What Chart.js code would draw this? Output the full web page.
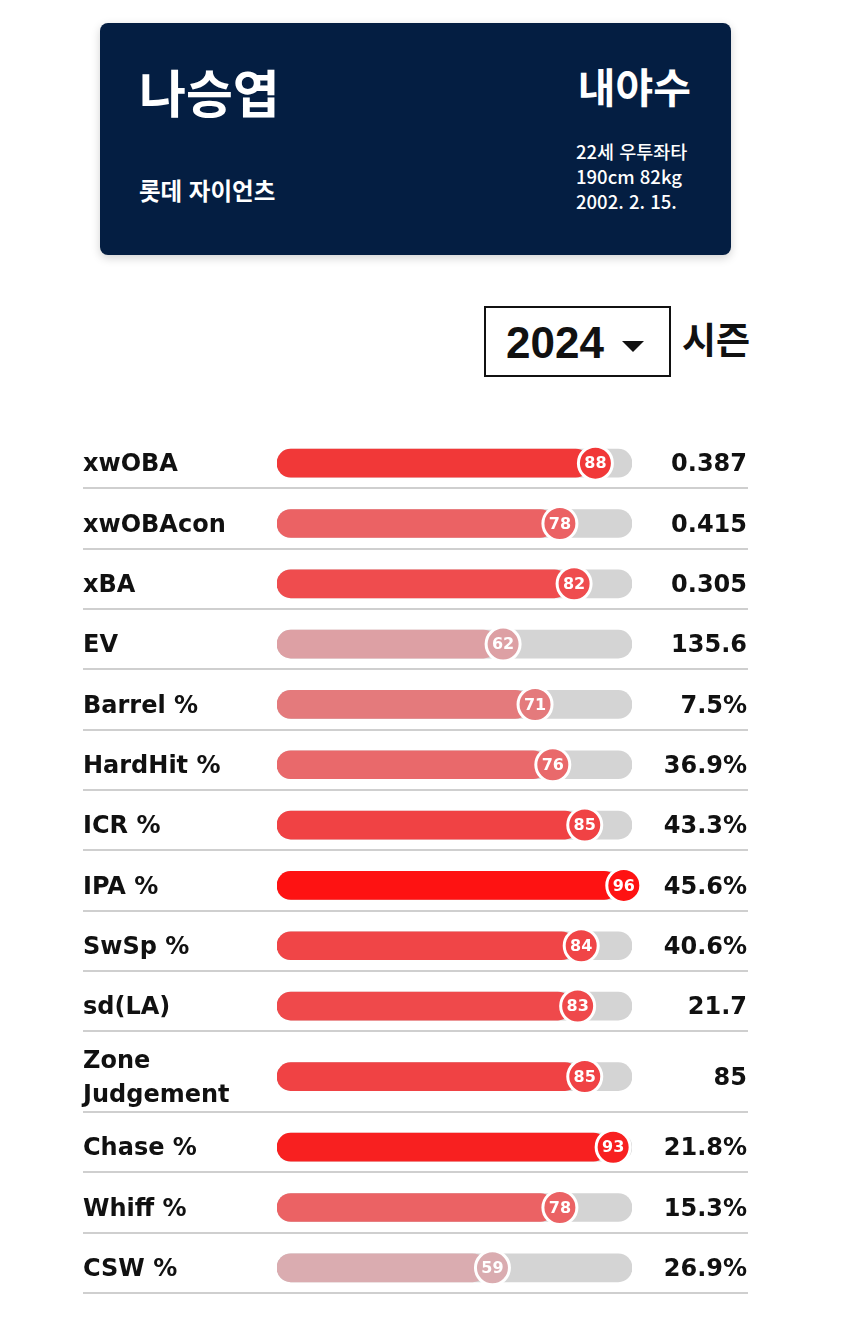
<!DOCTYPE html>
<html lang="ko">
<head>
<meta charset="utf-8">
<script src="https://cdn.jsdelivr.net/npm/chart.js@4.4.1/dist/chart.umd.min.js"></script>
<style>
  html, body { margin: 0; padding: 0; background: #fff; }
  body { width: 850px; height: 1319px; position: relative; overflow: hidden;
         font-family: "Noto Sans CJK KR", "Noto Sans", sans-serif; }
  .card { position: absolute; left: 100px; top: 23px; width: 631px; height: 232px;
          background: #041e42; border-radius: 8px; color: #fff;
          box-shadow: 0 3px 10px rgba(0,0,0,0.18); }
  .card div { position: absolute; white-space: nowrap; }
  .name { left: 39px; top: 38px; font-size: 51px; line-height: 60px; font-weight: 700; }
  .team { left: 39px; top: 152px; font-size: 23.5px; line-height: 30px; font-weight: 700; }
  .pos { right: 40px; top: 37px; font-size: 41px; line-height: 50px; font-weight: 700; }
  .info { left: 476px; top: 116px; font-size: 18.5px; font-weight: 500; line-height: 25px; }
  .season { position: absolute; left: 484px; top: 306px; width: 183px; height: 67px;
            border: 2px solid #111; }
  .season .yr { position: absolute; left: 20px; top: 13px; font-family: "Liberation Sans", Arial, sans-serif;
                font-size: 44px; line-height: 44px; font-weight: 700; color: #111; }
  .season .arrow { position: absolute; left: 136px; top: 33px; width: 0; height: 0;
                   border-left: 11px solid transparent; border-right: 11px solid transparent;
                   border-top: 11px solid #111; }
  .season-lbl { position: absolute; left: 682px; top: 313px; font-size: 37px; line-height: 50px; font-weight: 700; color: #111; }
  #wrap { position: absolute; left: 0; top: 404px; width: 850px; height: 913px; }
</style>
</head>
<body>
<div class="card">
  <div class="name">나승엽</div>
  <div class="team">롯데 자이언츠</div>
  <div class="pos">내야수</div>
  <div class="info">22세 우투좌타<br>190cm 82kg<br>2002. 2. 15.</div>
</div>
<div class="season"><span class="yr">2024</span><span class="arrow"></span></div>
<div class="season-lbl">시즌</div>
<div id="wrap"><canvas id="chart"></canvas></div>

<script>
// ---- data ----
const metrics = ["xwOBA", "xwOBAcon", "xBA", "EV", "Barrel %", "HardHit %", "ICR %",
  "IPA %", "SwSp %", "sd(LA)", ["Zone", "Judgement"], "Chase %", "Whiff %", "CSW %"];
const percentiles = [88, 78, 82, 62, 71, 76, 85, 96, 84, 83, 85, 93, 78, 59];
const statValues = ["0.387", "0.415", "0.305", "135.6", "7.5%", "36.9%", "43.3%",
  "45.6%", "40.6%", "21.7", "85", "21.8%", "15.3%", "26.9%"];

// row layout: two-line labels get a taller row
const rowSize = metrics.map(m => Array.isArray(m) ? 1.34 : 1);
const rowCenter = [];
let acc = 0;
rowSize.forEach(s => { rowCenter.push(acc + s / 2); acc += s; });
const totalRows = acc;

// percentile -> colour, pale rose at low end, pure red at top
const colorStops = [
  [55, [217, 182, 186]], [59, [218, 172, 176]], [62, [221, 160, 164]], [71, [228, 122, 124]],
  [78, [235, 98, 100]], [82, [239, 76, 78]], [85, [240, 66, 68]], [88, [241, 56, 56]],
  [93, [248, 32, 32]], [96, [254, 18, 18]], [100, [255, 8, 8]]
];
function pctColor(v) {
  for (let i = 1; i < colorStops.length; i++) {
    const [v1, c1] = colorStops[i];
    const [v0, c0] = colorStops[i - 1];
    if (v <= v1) {
      const t = Math.max(0, (v - v0) / (v1 - v0));
      const c = c0.map((x, k) => Math.round(x + (c1[k] - x) * t));
      return `rgb(${c[0]},${c[1]},${c[2]})`;
    }
  }
  return "rgb(255,8,8)";
}

const labelFont = "700 24px 'DejaVu Sans', sans-serif";

const rowDecor = {
  id: "rowDecor",
  afterDatasetsDraw(chart) {
    const { ctx, scales: { x, y } } = chart;
    ctx.save();
    // separators
    ctx.strokeStyle = "#cfcfcf";
    ctx.lineWidth = 2;
    let edge = 0;
    rowSize.forEach(s => {
      edge += s;
      const py = Math.round(y.getPixelForValue(edge)) - 5;
      ctx.beginPath();
      ctx.moveTo(83, py);
      ctx.lineTo(748, py);
      ctx.stroke();
    });
    metrics.forEach((m, i) => {
      const cy = y.getPixelForValue(rowCenter[i]);
      const ty = cy + 2;
      // left label
      ctx.fillStyle = "#111";
      ctx.font = labelFont;
      ctx.textAlign = "left";
      ctx.textBaseline = "middle";
      if (Array.isArray(m)) {
        ctx.fillText(m[0], 83, ty - 17);
        ctx.fillText(m[1], 83, ty + 17);
      } else {
        ctx.fillText(m, 83, ty);
      }
      // right value
      ctx.textAlign = "right";
      ctx.fillText(statValues[i], 747, ty);
      // percentile bubble
      const cx = x.getPixelForValue(percentiles[i]) + 6;
      ctx.beginPath();
      ctx.arc(cx, cy, 17, 0, Math.PI * 2);
      ctx.fillStyle = pctColor(percentiles[i]);
      ctx.fill();
      ctx.lineWidth = 3;
      ctx.strokeStyle = "#fff";
      ctx.stroke();
      ctx.fillStyle = "#fff";
      ctx.textAlign = "center";
      ctx.font = "700 16px 'DejaVu Sans', sans-serif";
      ctx.fillText(String(percentiles[i]), cx, cy + 1);
    });
    ctx.restore();
  }
};

new Chart(document.getElementById("chart"), {
  type: "bar",
  data: {
    datasets: [
      {
        label: "percentile",
        data: percentiles.map((v, i) => ({ x: v, y: rowCenter[i] })),
        backgroundColor: percentiles.map(pctColor),
        borderRadius: 14,
        borderSkipped: false,
        barThickness: 28,
        grouped: false
      },
      {
        label: "track",
        data: percentiles.map((v, i) => ({ x: 100, y: rowCenter[i] })),
        backgroundColor: "#d4d4d4",
        borderRadius: 14,
        borderSkipped: false,
        barThickness: 28,
        grouped: false
      }
    ]
  },
  options: {
    indexAxis: "y",
    responsive: true,
    maintainAspectRatio: false,
    animation: false,
    layout: { padding: { left: 277, right: 218, top: 29, bottom: 19 } },
    plugins: { legend: { display: false }, tooltip: { enabled: false } },
    scales: {
      x: { type: "linear", min: 0, max: 100, display: false, offset: false },
      y: { type: "linear", min: 0, max: totalRows, reverse: true, display: false, offset: false }
    }
  },
  plugins: [rowDecor]
});
</script>
</body>
</html>
